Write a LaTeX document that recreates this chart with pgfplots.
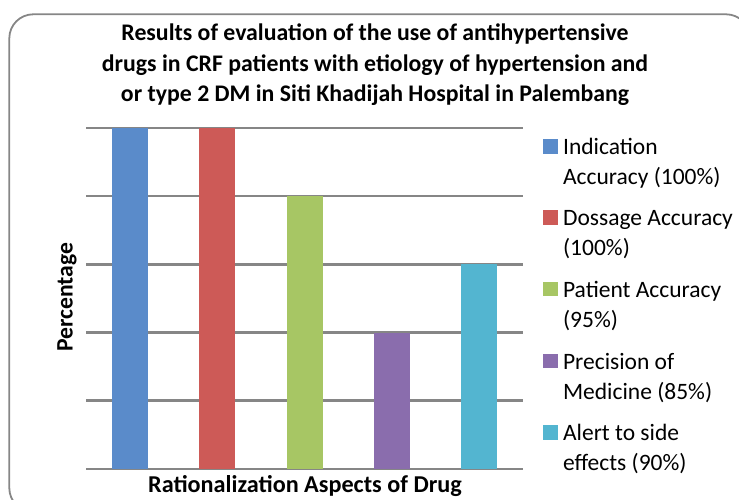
\documentclass[border=0pt]{standalone}
\usepackage{pgfplots}
\pgfplotsset{compat=1.18}
\usepackage{fontspec}
\setmainfont{Carlito}
\definecolor{cA}{HTML}{5A8BCA}
\definecolor{cB}{HTML}{CD5A57}
\definecolor{cC}{HTML}{A7C664}
\definecolor{cD}{HTML}{8A6DAD}
\definecolor{cE}{HTML}{53B5D0}
\definecolor{gridgray}{HTML}{868686}
\begin{document}
\begin{tikzpicture}[x=1pt,y=1pt]
\useasboundingbox (0,0) rectangle (739,500);
\begin{scope}
\clip (0,0) rectangle (739,500);
\draw[gridgray, line width=1.8pt, rounded corners=24pt] (9.3,-12) rectangle (750,485.7);
\end{scope}
\node[font=\bfseries\fontsize{23.8}{30.5}\selectfont, align=center] at (375,435) {Results of evaluation of the use of antihypertensive\\drugs in CRF patients with etiology of hypertension and\\or type 2 DM in Siti Khadijah Hospital in Palembang};
\node[font=\bfseries\fontsize{24.2}{27}\selectfont] at (305,14) {Rationalization Aspects of Drug};
\node[font=\bfseries\fontsize{23.6}{27}\selectfont, rotate=90] at (67,203) {Percentage};
\begin{axis}[
  at={(86pt,31pt)}, anchor=south west,
  scale only axis, width=437pt, height=341pt,
  xmin=0.5, xmax=5.5, ymin=75, ymax=100,
  ytick={75,80,85,90,95,100}, yticklabels={},
  xtick=\empty,
  ymajorgrids, major grid style={line width=2.6pt, color=gridgray},
  axis line style={draw=none}, major tick length=0pt,
  ybar, bar width=36pt, bar shift=0pt,
  legend style={at={(1.0455,0.97)}, anchor=north west, draw=none, fill=none,
    font=\fontsize{23.5}{30}\selectfont, inner sep=0pt,
    nodes={anchor=base west, align=left, inner sep=0pt},
    column sep=5.5pt, row sep=24pt},
  legend image code/.code={\fill[#1] (0pt,31pt) rectangle (14.5pt,45.5pt);},
]
\addplot[fill=cA, draw=none] coordinates {(1,100)};
\addlegendentry{Indication\\Accuracy (100\%)}
\addplot[fill=cB, draw=none] coordinates {(2,100)};
\addlegendentry{Dossage Accuracy\\(100\%)}
\addplot[fill=cC, draw=none] coordinates {(3,95)};
\addlegendentry{Patient Accuracy\\(95\%)}
\addplot[fill=cD, draw=none] coordinates {(4,85)};
\addlegendentry{Precision of\\Medicine (85\%)}
\addplot[fill=cE, draw=none] coordinates {(5,90)};
\addlegendentry{Alert to side\\effects (90\%)}
\end{axis}
\end{tikzpicture}
\end{document}
